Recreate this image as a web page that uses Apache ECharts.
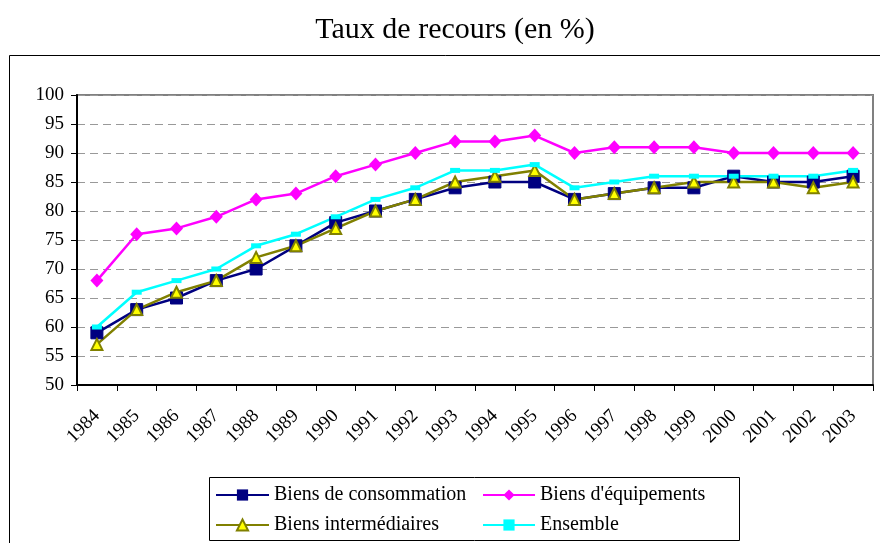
<!DOCTYPE html>
<html>
<head>
<meta charset="utf-8">
<script src="https://cdn.jsdelivr.net/npm/echarts@6/dist/echarts.min.js"></script>
<style>
html,body{margin:0;padding:0;background:#fff;}
#chart{width:880px;height:543px;}
</style>
</head>
<body>
<div id="chart"></div>
<script>
const years = ['1984','1985','1986','1987','1988','1989','1990','1991','1992','1993','1994','1995','1996','1997','1998','1999','2000','2001','2002','2003'];
const consommation = [59,63,65,68,70,74,78,80,82,84,85,85,82,83,84,84,86,85,85,86];
const equipements = [68,76,77,79,82,83,86,88,90,92,92,93,90,91,91,91,90,90,90,90];
const intermediaires = [57,63,66,68,72,74,77,80,82,85,86,87,82,83,84,85,85,85,84,85];
const ensemble = [60,66,68,70,74,76,79,82,84,87,87,88,84,85,86,86,86,86,86,87];
const yTicks = [50,55,60,65,70,75,80,85,90,95,100];

const serif = '"Liberation Serif", "DejaVu Serif", serif';
const chart = echarts.init(document.getElementById('chart'));
const option = {
  backgroundColor: '#fff',
  animation: false,
  title: {
    text: 'Taux de recours (en %)',
    left: 450, textAlign: 'center', top: 10,
    textStyle: {fontFamily: serif, fontSize: 30, fontWeight: 'normal', color: '#000'}
  },
  graphic: [
    {type: 'rect', shape: {x: 9.5, y: 55.5, width: 900, height: 600}, style: {fill: 'none', stroke: '#000', lineWidth: 1}, z: -10},
    {type: 'rect', shape: {x: 209.5, y: 477.5, width: 530, height: 63}, style: {fill: '#fff', stroke: '#000', lineWidth: 1}, z: -5}
  ],
  grid: {left: 77, right: 7, top: 95, bottom: 158, show: true, borderColor: '#808080', borderWidth: 2, backgroundColor: '#fff'},
  legend: [
    {data: ['Biens de consommation', 'Biens intermédiaires'], orient: 'vertical', left: 215, top: 485, padding: 0,
     itemWidth: 53, itemHeight: 14, itemGap: 10,
     textStyle: {fontFamily: serif, fontSize: 20, color: '#000', lineHeight: 20}},
    {data: ["Biens d'équipements", 'Ensemble'], orient: 'vertical', left: 482, top: 485, padding: 0,
     itemWidth: 52, itemHeight: 14, itemGap: 10,
     textStyle: {fontFamily: serif, fontSize: 20, color: '#000', lineHeight: 20}}
  ],
  xAxis: {
    type: 'category', data: years, boundaryGap: true,
    axisLine: {lineStyle: {color: '#000', width: 2}},
    axisTick: {show: true, length: 6, lineStyle: {color: '#000', width: 1}},
    axisLabel: {rotate: 45, margin: 28, fontFamily: serif, fontSize: 19, color: '#000', interval: 0},
    splitLine: {show: false}
  },
  yAxis: {
    type: 'value', min: 50, max: 100, interval: 5,
    axisLine: {show: true, lineStyle: {color: '#000', width: 2}},
    axisTick: {show: true, length: 6, lineStyle: {color: '#000', width: 1}},
    axisLabel: {margin: 13, fontFamily: serif, fontSize: 19, color: '#000',
      formatter: v => yTicks.includes(v) ? String(v) : ''},
    splitLine: {show: true, lineStyle: {color: '#999', type: [8, 5], width: 1}}
  },
  series: [
    {name: 'Biens de consommation', type: 'line', data: consommation,
     symbol: 'rect', symbolSize: 12,
     lineStyle: {color: '#000080', width: 2.5}, itemStyle: {color: '#000080', borderColor: '#000080'}},
    {name: "Biens d'équipements", type: 'line', data: equipements,
     symbol: 'diamond', symbolSize: [13, 14],
     lineStyle: {color: '#FF00FF', width: 2.5}, itemStyle: {color: '#FF00FF'}},
    {name: 'Biens intermédiaires', type: 'line', data: intermediaires,
     symbol: 'triangle', symbolSize: 11,
     lineStyle: {color: '#808000', width: 2.5}, itemStyle: {color: '#FFFF00', borderColor: '#808000', borderWidth: 2}},
    {name: 'Ensemble', type: 'line', data: ensemble,
     symbol: 'rect', symbolSize: [10, 5],
     lineStyle: {color: '#00FFFF', width: 2.5}, itemStyle: {color: '#00FFFF'}}
  ]
};
chart.setOption(option);
</script>
</body>
</html>
